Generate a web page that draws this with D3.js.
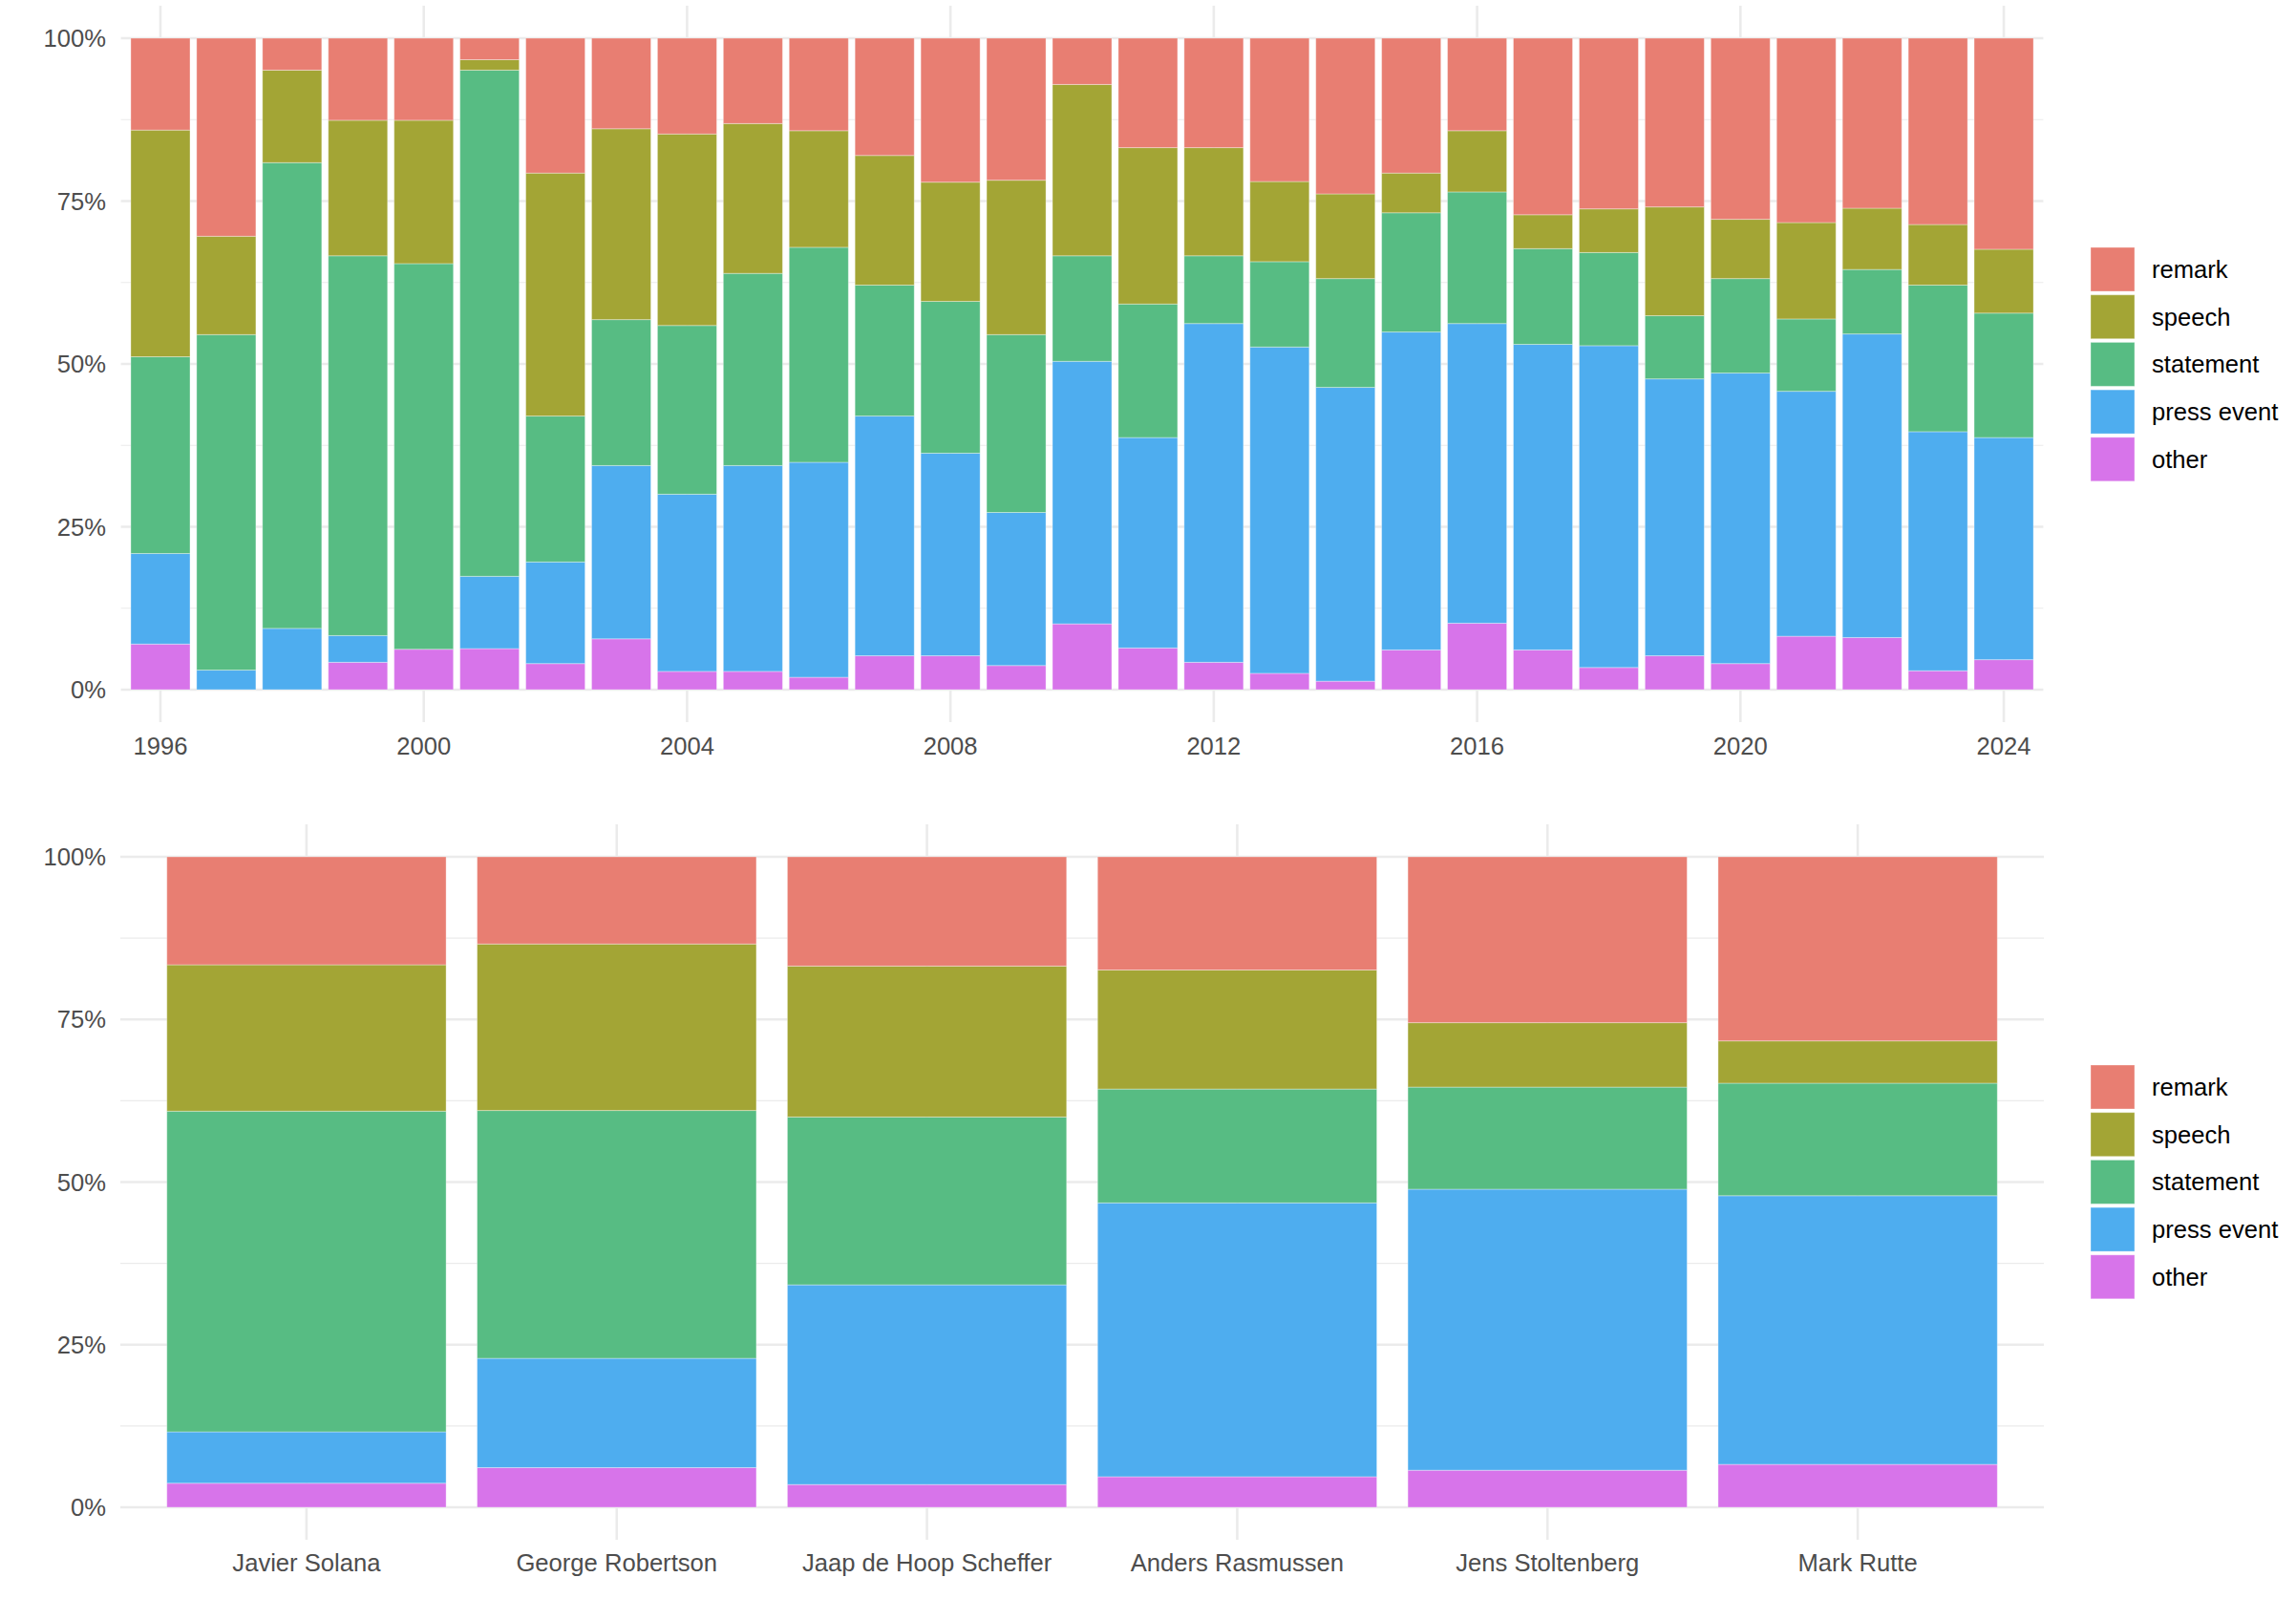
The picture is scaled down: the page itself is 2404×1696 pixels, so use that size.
<!DOCTYPE html>
<html>
<head>
<meta charset="utf-8">
<script src="https://cdn.jsdelivr.net/npm/d3@7"></script>
<style>
  html, body { margin: 0; padding: 0; background: #ffffff; }
  svg { display: block; font-family: "Liberation Sans", Arial, Helvetica, sans-serif; }
</style>
</head>
<body>
<svg id="chart" width="2404" height="1696"></svg>
<script>
// ---------- DATA ----------
const types = ["other", "press event", "statement", "speech", "remark"]; // bottom -> top
const legendOrder = ["remark", "speech", "statement", "press event", "other"];
const colors = ["#D774EA", "#4EADEF", "#57BC83", "#A3A535", "#E87E72"]; // same order as types

const years = [1996,1997,1998,1999,2000,2001,2002,2003,2004,2005,2006,2007,2008,2009,2010,
               2011,2012,2013,2014,2015,2016,2017,2018,2019,2020,2021,2022,2023,2024];
const yearOther     = [0.070,0.000,0.000,0.042,0.062,0.063,0.040,0.078,0.028,0.028,0.019,0.052,0.052,0.037,0.101,
                       0.064,0.042,0.025,0.013,0.061,0.102,0.061,0.034,0.052,0.040,0.082,0.080,0.029,0.046];
const yearPress     = [0.139,0.030,0.094,0.041,0.000,0.111,0.156,0.266,0.272,0.316,0.330,0.368,0.311,0.235,0.403,
                       0.323,0.520,0.501,0.451,0.488,0.460,0.469,0.494,0.425,0.446,0.376,0.466,0.367,0.341];
const yearStatement = [0.302,0.515,0.715,0.583,0.592,0.777,0.224,0.224,0.259,0.295,0.330,0.201,0.233,0.273,0.162,
                       0.205,0.104,0.131,0.167,0.183,0.202,0.147,0.143,0.097,0.145,0.111,0.099,0.225,0.191];
const yearSpeech    = [0.348,0.151,0.142,0.208,0.220,0.016,0.373,0.293,0.294,0.230,0.179,0.199,0.183,0.237,0.263,
                       0.240,0.166,0.123,0.130,0.061,0.094,0.052,0.067,0.167,0.091,0.148,0.094,0.093,0.098];
const yearRemark    = [0.141,0.304,0.049,0.126,0.126,0.033,0.207,0.139,0.147,0.131,0.142,0.180,0.221,0.218,0.071,
                       0.168,0.168,0.220,0.239,0.207,0.142,0.271,0.262,0.259,0.278,0.283,0.261,0.286,0.324];
const yearTicks = [1996,2000,2004,2008,2012,2016,2020,2024];

const leaders = ["Javier Solana","George Robertson","Jaap de Hoop Scheffer","Anders Rasmussen","Jens Stoltenberg","Mark Rutte"];
const leaderOther     = [0.037,0.061,0.035,0.047,0.057,0.066];
const leaderPress     = [0.079,0.168,0.307,0.421,0.432,0.413];
const leaderStatement = [0.493,0.381,0.258,0.175,0.157,0.173];
const leaderSpeech    = [0.225,0.256,0.232,0.183,0.099,0.065];
const leaderRemark    = [0.166,0.134,0.168,0.174,0.255,0.283];

const pctTicks = [0, 0.25, 0.5, 0.75, 1];
const pctMinor = [0.125, 0.375, 0.625, 0.875];

// ---------- SETUP ----------
const svg = d3.select("#chart");
const color = d3.scaleOrdinal().domain(types).range(colors);
const fmtPct = d => Math.round(d * 100) + "%";
const GRID = "#EBEBEB";
const TEXT = "#4D4D4D";
const FS = 25.6;

function buildRows(keys, o, p, st, sp, r) {
  return keys.map((k, i) => ({
    key: k, "other": o[i], "press event": p[i], "statement": st[i], "speech": sp[i], "remark": r[i]
  }));
}

function drawPanel(opts) {
  const g = svg.append("g");
  const { xPos, bw, y, left, right, top, bottom, xTickVals, xTickFmt, labelY, rows } = opts;

  g.selectAll(".hminor").data(pctMinor).join("line")
    .attr("x1", left).attr("x2", right)
    .attr("y1", d => y(d)).attr("y2", d => y(d))
    .attr("stroke", GRID).attr("stroke-width", 1.2);
  g.selectAll(".hmajor").data(pctTicks).join("line")
    .attr("x1", left).attr("x2", right)
    .attr("y1", d => y(d)).attr("y2", d => y(d))
    .attr("stroke", GRID).attr("stroke-width", 2.6);
  g.selectAll(".vmajor").data(xTickVals).join("line")
    .attr("x1", d => xPos(d)).attr("x2", d => xPos(d))
    .attr("y1", top).attr("y2", bottom)
    .attr("stroke", GRID).attr("stroke-width", 2.6);

  const series = d3.stack().keys(types)(rows);
  const sg = g.selectAll(".series").data(series).join("g")
    .attr("fill", d => color(d.key));
  sg.selectAll("rect").data(d => d.map(v => ({ v, key: d.key }))).join("rect")
    .attr("x", d => xPos(d.v.data.key) - bw / 2)
    .attr("width", bw)
    .attr("y", d => y(d.v[1]))
    .attr("height", d => Math.max(0, y(d.v[0]) - y(d.v[1])))
    .attr("stroke", "rgba(255,255,255,0.35)")
    .attr("stroke-width", 1);

  g.selectAll(".ylab").data(pctTicks).join("text")
    .attr("x", 111).attr("y", d => y(d))
    .attr("text-anchor", "end").attr("dominant-baseline", "central")
    .attr("font-size", FS).attr("fill", TEXT)
    .text(fmtPct);

  g.selectAll(".xlab").data(xTickVals).join("text")
    .attr("x", d => xPos(d)).attr("y", labelY)
    .attr("text-anchor", "middle")
    .attr("font-size", FS).attr("fill", TEXT)
    .text(xTickFmt);
}

function drawLegend(x0, y0) {
  const step = 49.7, sz = 46;
  const lg = svg.append("g");
  const items = lg.selectAll("g").data(legendOrder).join("g")
    .attr("transform", (d, i) => `translate(${x0},${y0 + i * step})`);
  items.append("rect")
    .attr("width", sz).attr("height", sz)
    .attr("fill", d => color(d))
    .attr("stroke", "rgba(255,255,255,0.35)").attr("stroke-width", 1);
  items.append("text")
    .attr("x", 64).attr("y", sz / 2)
    .attr("dominant-baseline", "central")
    .attr("font-size", FS).attr("fill", "#000000")
    .text(d => d);
}

// ---------- TOP PANEL (by year) ----------
const xYear = d3.scaleLinear().domain([1995.4, 2024.6]).range([126.6, 2139.4]);
const yTop = d3.scaleLinear().domain([0, 1]).range([722, 40]);
drawPanel({
  rows: buildRows(years, yearOther, yearPress, yearStatement, yearSpeech, yearRemark),
  xPos: xYear,
  bw: (xYear(1) - xYear(0)) * 0.9,
  y: yTop,
  left: 126.6, right: 2139.4, top: 6, bottom: 756,
  xTickVals: yearTicks, xTickFmt: d => String(d),
  labelY: 790
});
drawLegend(2189, 259);

// ---------- BOTTOM PANEL (by secretary general) ----------
const xLeader = d3.scalePoint().domain(leaders).range([126, 2140]).padding(0.6);
const yBot = d3.scaleLinear().domain([0, 1]).range([1578, 897]);
drawPanel({
  rows: buildRows(leaders, leaderOther, leaderPress, leaderStatement, leaderSpeech, leaderRemark),
  xPos: xLeader,
  bw: xLeader.step() * 0.9,
  y: yBot,
  left: 126, right: 2140, top: 863, bottom: 1612,
  xTickVals: leaders, xTickFmt: d => d,
  labelY: 1645
});
drawLegend(2189, 1115);
</script>
</body>
</html>
